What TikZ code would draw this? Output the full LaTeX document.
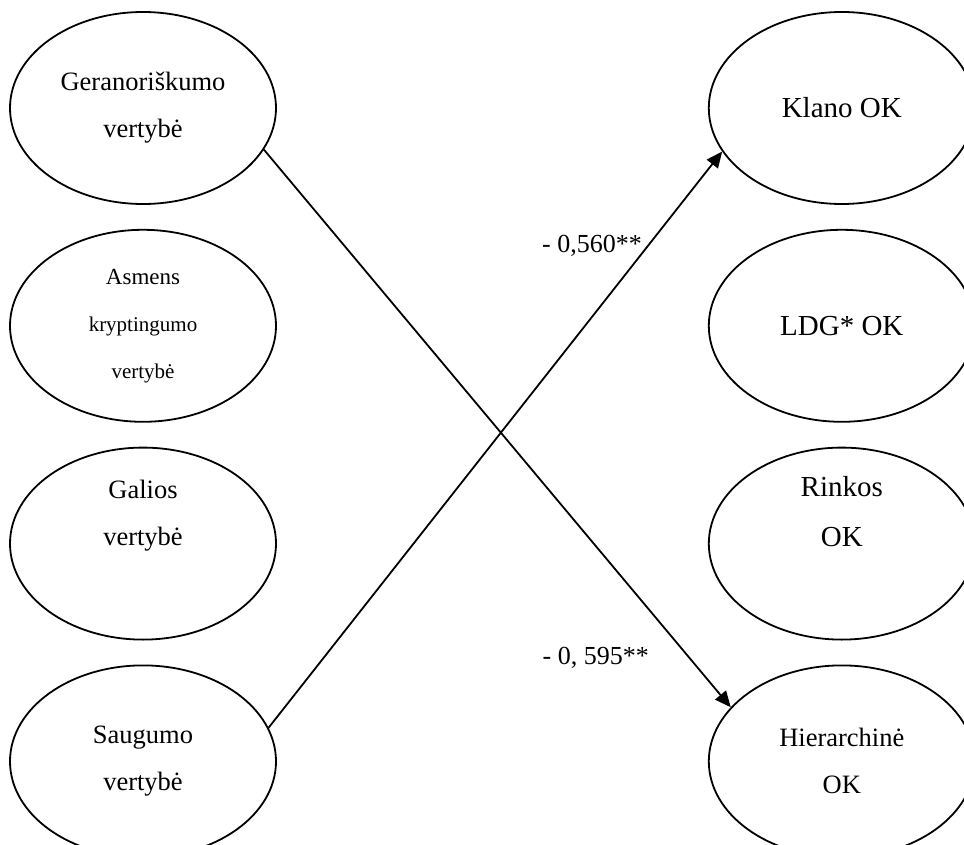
\documentclass[tikz,border=0pt]{standalone}
\usepackage{fontspec}
\setmainfont{Liberation Serif}
\usepackage{tikz}
\usetikzlibrary{arrows.meta,shapes.geometric,positioning}
\tikzset{%
  >={Triangle[length=8pt,width=7pt]},
  % Specifications for style of nodes:
        base/.style = {ellipse, draw=black, line width=0.9pt,
                       minimum width=133pt, minimum height=96pt,
                       inner sep=0pt, align=center,
                       font=\fontsize{13.25pt}{23.5pt}\selectfont},
   valueNode/.style = {base},
 cultureNode/.style = {base, font=\fontsize{14.5pt}{25pt}\selectfont},
    coefNode/.style = {inner sep=0pt, font=\fontsize{13pt}{15pt}\selectfont},
}

\begin{document}
\begin{tikzpicture}[node distance=12pt, line width=0.9pt]
  \useasboundingbox (0,0) rectangle (482pt,-422.5pt);
  % Specification of nodes (position, etc.)
  \node (gerValue) [valueNode] at (71.5pt,-54pt) {Geranoriškumo\\vertybė};
  \node (asmValue) [valueNode, below=of gerValue]
    {{\fontsize{11.5pt}{21pt}\selectfont Asmens}\\
     {\fontsize{10.5pt}{18pt}\selectfont kryptingumo}\\
     {\fontsize{10.5pt}{18pt}\selectfont vertybė}};
  \node (galValue) [valueNode, below=of asmValue] {Galios\\vertybė\\\strut};
  \node (saugValue) [valueNode, below=of galValue] {Saugumo\\vertybė};

  \node (klanOC) [cultureNode, right=215.5pt of gerValue] {Klano OK};
  \node (ldgOC) [cultureNode, below=of klanOC] {LDG* OK};
  \node (rinkOC) [cultureNode, below=of ldgOC] {Rinkos\\OK\\\strut};
  \node (hierOC) [valueNode, below=of rinkOC] {Hierarchinė\\OK};

  % Specification of lines between nodes specified above
  % with aditional nodes for the coefficients
  \draw[->] (saugValue.15) -- node[coefNode, pos=0.836, anchor=east, xshift=-2.5pt] (coefKlan) {- 0,560**} (klanOC.200);
  \draw[->] (gerValue.-19) -- node[coefNode, pos=0.912, anchor=east, xshift=-20pt] (coefHier) {- 0, 595**} (hierOC.154);

\end{tikzpicture}
\end{document}
